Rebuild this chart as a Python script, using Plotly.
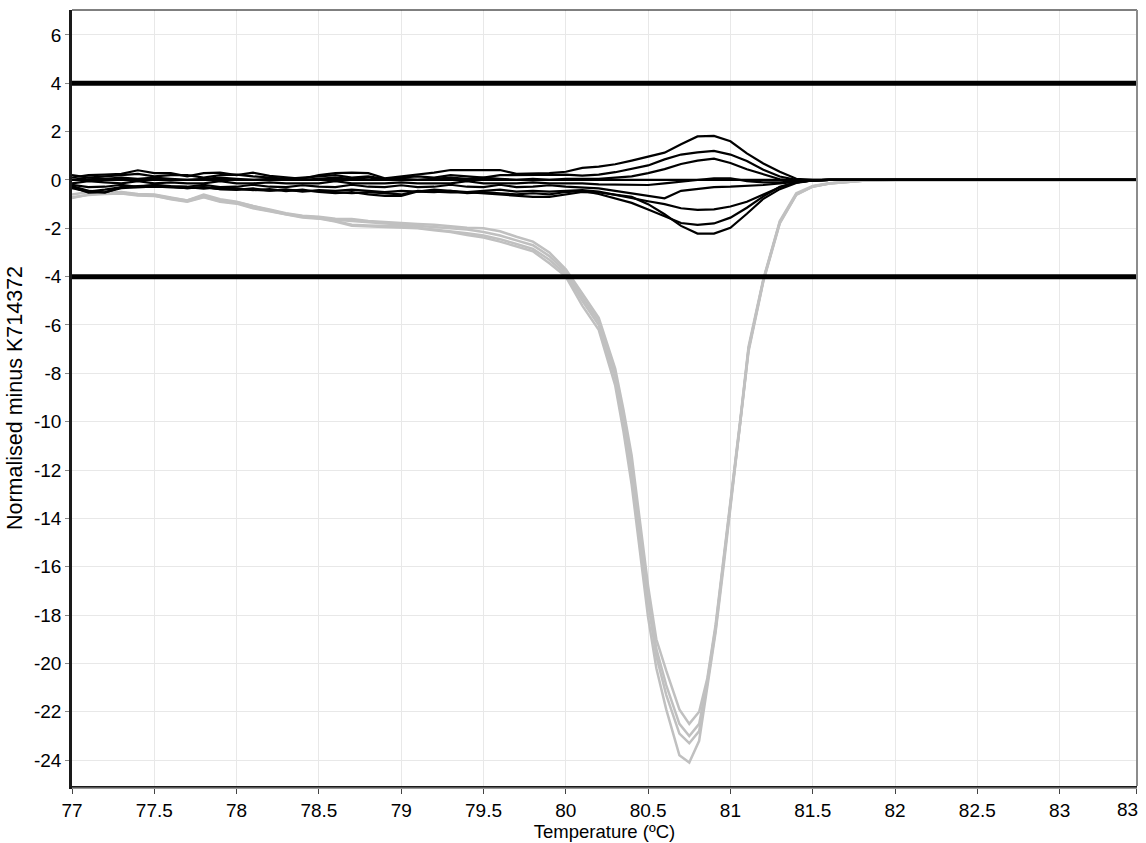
import plotly.graph_objects as go

# Temperature grid for the difference curves (°C)
black_x = [77.0, 77.1, 77.2, 77.3, 77.4, 77.5, 77.6, 77.7, 77.8, 77.9,
           78.0, 78.1, 78.2, 78.3, 78.4, 78.5, 78.6, 78.7, 78.8, 78.9,
           79.0, 79.1, 79.2, 79.3, 79.4, 79.5, 79.6, 79.7, 79.8, 79.9,
           80.0, 80.1, 80.2, 80.3, 80.4, 80.5, 80.6, 80.7, 80.8, 80.9,
           81.0, 81.1, 81.2, 81.3, 81.4, 81.5, 81.6, 82.0, 82.5, 83.0, 83.47]

# Normalised difference of each sample minus the reference K714372
line1_y = [0.1, 0.2, 0.22, 0.25, 0.4, 0.28, 0.28, 0.15, 0.28, 0.3,
           0.2, 0.3, 0.17, 0.1, 0.05, 0.2, 0.28, 0.3, 0.28, 0.07,
           0.15, 0.21, 0.3, 0.41, 0.41, 0.41, 0.41, 0.25, 0.27, 0.28,
           0.34, 0.5, 0.55, 0.65, 0.8, 0.98, 1.13, 1.48, 1.8, 1.82,
           1.6, 1.1, 0.68, 0.34, 0.05, 0.0, 0.0, 0.0, 0.0, 0.0, 0.0]
line2_y = [0.2, 0.1, 0.15, 0.2, 0.25, 0.15, 0.2, 0.2, 0.1, 0.2,
           0.22, 0.15, 0.1, 0.05, 0.1, 0.15, 0.2, 0.1, 0.15, 0.05,
           0.1, 0.15, 0.1, 0.2, 0.15, 0.1, 0.2, 0.2, 0.22, 0.2,
           0.22, 0.18, 0.22, 0.32, 0.45, 0.6, 0.85, 1.05, 1.14, 1.2,
           1.05, 0.78, 0.42, 0.14, 0.0, -0.02, 0.0, 0.0, 0.0, 0.0, 0.0]
line3_y = [0.0, 0.1, 0.05, 0.1, 0.05, 0.1, 0.05, 0.0, 0.05, 0.1,
           0.05, 0.0, 0.05, 0.0, 0.0, 0.05, 0.1, 0.05, 0.1, 0.0,
           0.05, 0.0, 0.05, 0.1, 0.05, 0.1, 0.05, 0.0, 0.05, 0.0,
           0.05, 0.05, 0.05, 0.1, 0.15, 0.28, 0.45, 0.66, 0.8, 0.88,
           0.7, 0.44, 0.24, 0.03, -0.05, -0.02, 0.0, 0.0, 0.0, 0.0, 0.0]
line4_y = [-0.14, -0.05, -0.1, -0.14, -0.05, -0.14, -0.1, -0.14, -0.14, -0.05,
           -0.14, -0.14, -0.1, -0.14, -0.14, -0.14, -0.05, -0.14, -0.14, -0.14,
           -0.1, -0.14, -0.14, -0.14, -0.05, -0.14, -0.14, -0.14, -0.1, -0.14,
           -0.14, -0.14, -0.18, -0.2, -0.21, -0.21, -0.14, -0.07, 0.0, 0.07,
           0.07, -0.05, -0.1, -0.1, -0.06, -0.02, 0.0, 0.0, 0.0, 0.0, 0.0]
line5_y = [-0.2, -0.3, -0.28, -0.2, -0.28, -0.2, -0.25, -0.28, -0.2, -0.3,
           -0.28, -0.2, -0.28, -0.3, -0.22, -0.28, -0.3, -0.2, -0.28, -0.3,
           -0.22, -0.3, -0.28, -0.2, -0.28, -0.3, -0.2, -0.3, -0.28, -0.22,
           -0.28, -0.3, -0.35, -0.45, -0.55, -0.65, -0.76, -0.45, -0.36, -0.3,
           -0.28, -0.25, -0.21, -0.14, -0.07, -0.02, 0.0, 0.0, 0.0, 0.0, 0.0]
line6_y = [-0.34, -0.48, -0.4, -0.3, -0.3, -0.28, -0.3, -0.34, -0.3, -0.38,
           -0.41, -0.35, -0.44, -0.4, -0.48, -0.42, -0.45, -0.4, -0.45, -0.5,
           -0.45, -0.48, -0.4, -0.45, -0.5, -0.45, -0.4, -0.48, -0.45, -0.48,
           -0.45, -0.42, -0.48, -0.62, -0.76, -0.88, -1.0, -1.17, -1.24, -1.22,
           -1.1, -0.9, -0.6, -0.3, -0.1, -0.02, 0.0, 0.0, 0.0, 0.0, 0.0]
line7_y = [-0.3, -0.52, -0.5, -0.34, -0.3, -0.28, -0.3, -0.3, -0.36, -0.3,
           -0.35, -0.42, -0.38, -0.46, -0.4, -0.5, -0.55, -0.5, -0.6, -0.66,
           -0.66, -0.48, -0.5, -0.45, -0.55, -0.5, -0.55, -0.6, -0.55, -0.6,
           -0.5, -0.45, -0.58, -0.76, -0.95, -1.22, -1.5, -1.78, -1.86, -1.8,
           -1.56, -1.15, -0.68, -0.28, -0.1, -0.02, 0.0, 0.0, 0.0, 0.0, 0.0]
line8_y = [-0.25, -0.45, -0.52, -0.3, -0.25, -0.22, -0.28, -0.34, -0.3, -0.38,
           -0.38, -0.42, -0.44, -0.4, -0.45, -0.46, -0.5, -0.55, -0.5, -0.55,
           -0.6, -0.45, -0.48, -0.52, -0.5, -0.55, -0.6, -0.65, -0.7, -0.7,
           -0.6, -0.5, -0.52, -0.6, -0.7, -1.0, -1.42, -1.9, -2.22, -2.22,
           -1.98, -1.4, -0.78, -0.38, -0.12, -0.02, 0.0, 0.0, 0.0, 0.0, 0.0]

# Reference sample against itself
ref_x = [77.0, 83.47]
ref_y = [0.0, 0.0]

# Temperature grid for the outlying (grey) samples
grey_x = [77.0, 77.1, 77.2, 77.3, 77.4, 77.5, 77.6, 77.7, 77.8, 77.9,
          78.0, 78.1, 78.2, 78.3, 78.4, 78.5, 78.6, 78.7, 78.8, 78.9,
          79.0, 79.1, 79.2, 79.3, 79.4, 79.5, 79.6, 79.7, 79.8, 79.9,
          80.0, 80.1, 80.2, 80.3, 80.35, 80.4, 80.45, 80.5, 80.55, 80.61,
          80.69, 80.75, 80.81, 80.86, 80.91, 80.96, 81.01, 81.06, 81.11, 81.2,
          81.25, 81.3, 81.4, 81.5, 81.6, 81.7, 81.8, 82.0, 82.5, 83.0, 83.47]

grey_a_y = [-0.35, -0.45, -0.52, -0.5, -0.58, -0.6, -0.72, -0.85, -0.6, -0.8,
            -0.9, -1.08, -1.22, -1.38, -1.48, -1.52, -1.6, -1.62, -1.7, -1.75,
            -1.78, -1.82, -1.85, -1.92, -1.98, -2.0, -2.12, -2.35, -2.55, -3.0,
            -3.7, -4.7, -5.7, -7.8, -9.5, -11.4, -14.0, -16.8, -19.0, -20.3,
            -21.9, -22.5, -22.0, -20.6, -18.4, -15.6, -12.7, -9.9, -6.9, -4.1,
            -2.9, -1.7, -0.55, -0.25, -0.14, -0.07, -0.03, 0.0, 0.0, 0.0, 0.0]
grey_b_y = [-0.6, -0.5, -0.55, -0.52, -0.6, -0.62, -0.75, -0.85, -0.65, -0.85,
            -0.92, -1.1, -1.25, -1.4, -1.5, -1.55, -1.65, -1.7, -1.75, -1.8,
            -1.82, -1.88, -1.95, -2.0, -2.05, -2.15, -2.3, -2.5, -2.7, -3.15,
            -3.8, -4.85, -5.85, -8.0, -9.8, -11.8, -14.5, -17.2, -19.4, -20.9,
            -22.5, -23.0, -22.5, -20.7, -18.5, -15.7, -12.8, -10.0, -7.0, -4.15,
            -2.95, -1.75, -0.6, -0.27, -0.15, -0.08, -0.03, 0.0, 0.0, 0.0, 0.0]
grey_c_y = [-0.75, -0.6, -0.55, -0.55, -0.62, -0.65, -0.78, -0.88, -0.7, -0.88,
            -0.95, -1.15, -1.28, -1.42, -1.52, -1.58, -1.7, -1.85, -1.88, -1.9,
            -1.92, -1.98, -2.05, -2.1, -2.2, -2.3, -2.45, -2.65, -2.85, -3.3,
            -3.9, -5.0, -6.0, -8.2, -10.0, -12.1, -14.8, -17.5, -19.7, -21.3,
            -22.9, -23.3, -22.8, -20.8, -18.6, -15.8, -12.9, -10.0, -7.0, -4.15,
            -2.95, -1.75, -0.6, -0.27, -0.15, -0.08, -0.03, 0.0, 0.0, 0.0, 0.0]
grey_d_y = [-0.72, -0.62, -0.58, -0.56, -0.64, -0.66, -0.8, -0.9, -0.72, -0.9,
            -0.98, -1.17, -1.3, -1.44, -1.55, -1.6, -1.72, -1.9, -1.92, -1.93,
            -1.95, -2.0, -2.08, -2.15, -2.28, -2.38, -2.55, -2.75, -2.95, -3.45,
            -4.0, -5.2, -6.2, -8.5, -10.4, -12.6, -15.3, -18.1, -20.2, -21.9,
            -23.8, -24.1, -23.2, -21.0, -18.7, -15.9, -13.0, -10.1, -7.1, -4.2,
            -3.0, -1.8, -0.62, -0.28, -0.15, -0.08, -0.03, 0.0, 0.0, 0.0, 0.0]

# Confidence thresholds
threshold_levels = [4.0, -4.0]

x_range = [77.0, 83.47]
y_range = [-25.07, 7.03]
x_tick_vals = [77.0, 77.5, 78.0, 78.5, 79.0, 79.5, 80.0, 80.5, 81.0, 81.5, 82.0, 82.5, 83.0, 83.468]
x_tick_text = ["77", "77.5", "78", "78.5", "79", "79.5", "80", "80.5", "81", "81.5", "82", "82.5", "83", ""]
x_end_label = "83"   # label for the end-of-range tick, kept inside the frame
y_tick_vals = [6, 4, 2, 0, -2, -4, -6, -8, -10, -12, -14, -16, -18, -20, -22, -24]
y_tick_text = ["6", "4", "2", "0", "-2", "-4", "-6", "-8", "-10", "-12", "-14", "-16", "-18", "-20", "-22", "-24"]

FONT = "Liberation Sans, Arial, sans-serif"
GREY = "#c0c0c0"

fig = go.Figure()

for gy in [grey_a_y, grey_b_y, grey_c_y, grey_d_y]:
    fig.add_trace(go.Scatter(x=grey_x, y=gy, mode="lines",
                             line=dict(color=GREY, width=2.5),
                             hoverinfo="skip", showlegend=False))

fig.add_trace(go.Scatter(x=ref_x, y=ref_y, mode="lines",
                         line=dict(color="black", width=2.2),
                         hoverinfo="skip", showlegend=False))

for by in [line1_y, line2_y, line3_y, line4_y, line5_y, line6_y, line7_y, line8_y]:
    fig.add_trace(go.Scatter(x=black_x, y=by, mode="lines",
                             line=dict(color="black", width=2.2),
                             hoverinfo="skip", showlegend=False))

for level in threshold_levels:
    fig.add_trace(go.Scatter(x=x_range, y=[level, level], mode="lines",
                             line=dict(color="black", width=5),
                             hoverinfo="skip", showlegend=False))

# Frame: thin black top edge, grey right edge, grey rule under the x axis
fig.add_shape(type="line", xref="paper", yref="paper", x0=0, x1=1, y0=1, y1=1,
              line=dict(color="black", width=1))
fig.add_shape(type="line", xref="paper", yref="paper", x0=1, x1=1, y0=0, y1=1,
              line=dict(color="#8c8c8c", width=2))
fig.add_shape(type="line", xref="paper", yref="paper", x0=0, x1=1, y0=-0.003, y1=-0.003,
              line=dict(color="#9a9a9a", width=1.5))

fig.add_annotation(text=x_end_label, xref="paper", yref="paper", x=1, y=0,
                   xanchor="right", yanchor="middle", xshift=2, yshift=-23,
                   showarrow=False, borderpad=0,
                   font=dict(family=FONT, size=19, color="black"))

fig.update_layout(
    width=1146, height=843,
    margin=dict(l=72, r=9, t=10, b=57, autoexpand=False),
    plot_bgcolor="white", paper_bgcolor="white",
    font=dict(family=FONT, size=18, color="black"),
    showlegend=False,
    xaxis=dict(
        range=x_range, tickmode="array", tickvals=x_tick_vals, ticktext=x_tick_text,
        showgrid=True, gridcolor="#e8e8e8", gridwidth=1, zeroline=False,
        showline=True, linecolor="#1a1a1a", linewidth=2.5,
        ticks="outside", ticklen=5, tickcolor="#444", tickwidth=1,
        automargin=False,
        tickfont=dict(family=FONT, size=19, color="black"),
        title=dict(text="Temperature (ºC)", font=dict(family=FONT, size=18.5, color="black"), standoff=4),
    ),
    yaxis=dict(
        range=y_range, tickmode="array", tickvals=y_tick_vals, ticktext=y_tick_text,
        showgrid=True, gridcolor="#e8e8e8", gridwidth=1, zeroline=False,
        showline=True, linecolor="#1a1a1a", linewidth=2.5,
        ticks="outside", ticklen=4, tickcolor="#888", tickwidth=1,
        automargin=False,
        tickfont=dict(family=FONT, size=19, color="black"),
        title=dict(text="Normalised minus K714372", font=dict(family=FONT, size=21.5, color="black"), standoff=6),
    ),
)

fig.write_html("out.html")
